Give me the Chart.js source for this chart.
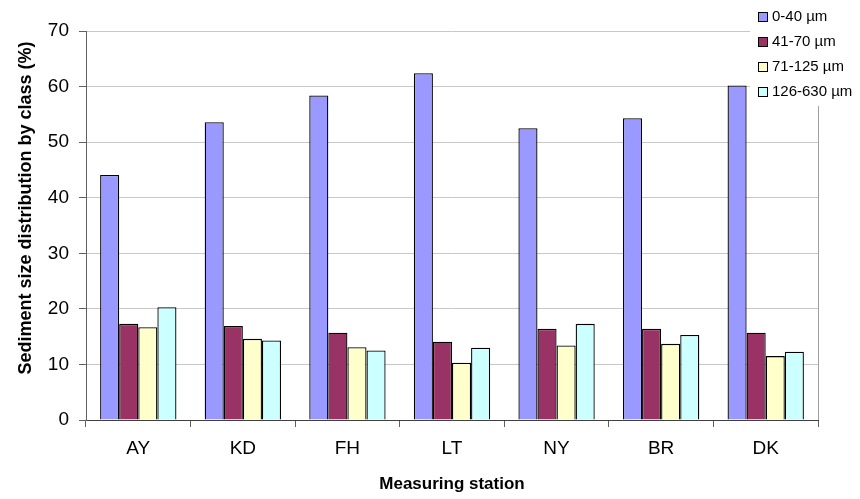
<!DOCTYPE html>
<html>
<head>
<meta charset="utf-8">
<script src="https://cdn.jsdelivr.net/npm/chart.js@4/dist/chart.umd.min.js"></script>
<style>
  html, body { margin: 0; padding: 0; background: #fff; }
  #wrap { width: 860px; height: 499px; }
</style>
</head>
<body>
<div id="wrap"><canvas id="mycanvas"></canvas></div>
<script>
var stations = ['AY', 'KD', 'FH', 'LT', 'NY', 'BR', 'DK'];
var classNames = ['0-40 µm', '41-70 µm', '71-125 µm', '126-630 µm'];
var fine = [44.1, 53.6, 58.4, 62.4, 52.5, 54.3, 60.2];
var silt = [17.3, 16.9, 15.7, 14.1, 16.4, 16.4, 15.7];
var sandFine = [16.7, 14.6, 13.1, 10.3, 13.4, 13.7, 11.5];
var sandCoarse = [20.3, 14.3, 12.5, 13.0, 17.3, 15.3, 12.3];
var yTicks = [0, 10, 20, 30, 40, 50, 60, 70];
var yTitle = 'Sediment size distribution by class (%)';

var colors = ['#9999FF', '#993366', '#FFFFCC', '#CCFFFF'];
var series = [fine, silt, sandFine, sandCoarse];
var fontFam = '"Liberation Sans", Arial, sans-serif';

var datasets = [];
for (var i in series) {
  datasets.push({
    label: classNames[i],
    data: series[i],
    backgroundColor: colors[i],
    borderColor: '#000000',
    borderWidth: 1.3,
    categoryPercentage: 0.73,
    barPercentage: 1.0
  });
}

// legend box, right frame line and y title, drawn by hand to sit where the original does
var boxLegend = {
  id: 'boxLegend',
  afterDraw: function(chart) {
    var ctx = chart.ctx;
    var area = chart.chartArea;
    ctx.save();
    ctx.strokeStyle = '#a0a0a0';
    ctx.lineWidth = 1;
    ctx.beginPath();
    ctx.moveTo(area.right + 0.5, area.bottom);
    ctx.lineTo(area.right + 0.5, area.top);
    ctx.stroke();

    ctx.fillStyle = '#ffffff';
    ctx.fillRect(750, 0, 110, 106);

    ctx.font = '15px ' + fontFam;
    ctx.textBaseline = 'middle';
    for (var k = 0; k < chart.data.datasets.length; k++) {
      var ds = chart.data.datasets[k];
      var cy = 16 + k * 25;
      ctx.fillStyle = ds.backgroundColor;
      ctx.fillRect(758, cy - 4, 10, 10);
      ctx.strokeStyle = '#000';
      ctx.strokeRect(758.5, cy - 3.5, 9, 9);
      ctx.fillStyle = '#000';
      ctx.fillText(ds.label, 772, cy + 1);
    }

    ctx.translate(26, 208);
    ctx.rotate(-Math.PI / 2);
    ctx.font = 'bold 18px ' + fontFam;
    ctx.textAlign = 'center';
    ctx.fillText(yTitle, 0, 0);
    ctx.restore();
  }
};

var ctx = document.getElementById('mycanvas');
var barGraph = new Chart(ctx, {
  type: 'bar',
  data: { labels: stations, datasets: datasets },
  options: {
    responsive: true,
    maintainAspectRatio: false,
    animation: false,
    layout: { padding: { top: 31, right: 42, left: 0, bottom: 0 } },
    plugins: {
      legend: { display: false },
      tooltip: { enabled: false }
    },
    scales: {
      x: {
        grid: {
          offset: true,
          drawOnChartArea: false,
          tickLength: 7,
          color: '#606060'
        },
        border: { color: '#404040', width: 1 },
        ticks: {
          color: '#000',
          padding: 10,
          font: { family: fontFam, size: 19 }
        },
        title: {
          display: true,
          text: 'Measuring station',
          color: '#000',
          font: { family: fontFam, size: 17, weight: 'bold' },
          padding: { top: 4 }
        },
        afterFit: function(scale) { scale.height = 79; }
      },
      y: {
        min: 0,
        max: 70,
        afterBuildTicks: function(scale) {
          scale.ticks = yTicks.map(function(v) { return { value: v }; });
        },
        grid: {
          color: '#c8c8c8',
          tickColor: '#606060',
          tickLength: 7
        },
        border: { color: '#606060', width: 1 },
        ticks: {
          color: '#000',
          padding: 10,
          font: { family: fontFam, size: 19 }
        },
        afterFit: function(scale) { scale.width = 86; }
      }
    }
  },
  plugins: [boxLegend]
});
</script>
</body>
</html>
